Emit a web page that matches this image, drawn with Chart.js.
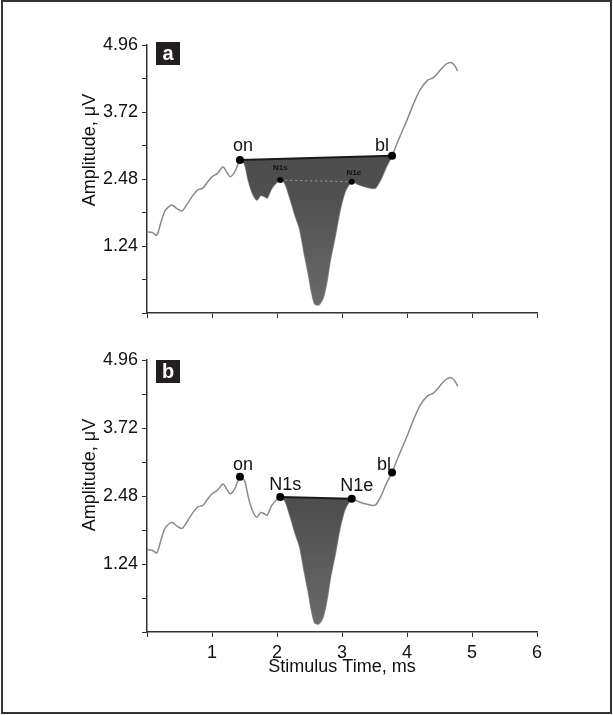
<!DOCTYPE html>
<html>
<head>
<meta charset="utf-8">
<script src="https://cdn.jsdelivr.net/npm/chart.js@4.4.0/dist/chart.umd.min.js"></script>
<style>
body{margin:0;background:#fff;width:613px;height:715px;position:relative;overflow:hidden}
#frame{position:absolute;left:1px;top:0;width:611px;height:714px;box-sizing:border-box;border:2px solid #333;pointer-events:none}
#ca{position:absolute;left:0;top:0}
#cb{position:absolute;left:0;top:338px}
</style>
</head>
<body>
<canvas id="ca" width="613" height="338"></canvas>
<canvas id="cb" width="613" height="377"></canvas>
<div id="frame"></div>
<script>
// waveform (ms, µV)
const timeMs = [0.00, 0.08, 0.15, 0.22, 0.28, 0.38, 0.46, 0.54, 0.62, 0.69, 0.78, 0.86, 0.93, 1.00, 1.08, 1.17, 1.23, 1.28, 1.35, 1.43,
  1.50, 1.56, 1.62, 1.69, 1.75, 1.80, 1.85, 1.92, 2.05, 2.12, 2.20, 2.28, 2.35, 2.42, 2.48, 2.53, 2.58, 2.64, 2.71, 2.77,
  2.82, 2.90, 2.97, 3.05, 3.15, 3.25, 3.35, 3.45, 3.52, 3.60, 3.68, 3.77, 3.85, 4.00, 4.10, 4.20, 4.32, 4.40, 4.46, 4.55,
  4.62, 4.69, 4.74, 4.78];
const amplitudeUv = [1.50, 1.49, 1.44, 1.70, 1.90, 2.00, 1.93, 1.89, 2.02, 2.15, 2.28, 2.31, 2.42, 2.52, 2.58, 2.70, 2.60, 2.52, 2.61, 2.83,
  2.76, 2.45, 2.22, 2.09, 2.18, 2.16, 2.13, 2.31, 2.46, 2.40, 2.12, 1.80, 1.55, 1.10, 0.74, 0.40, 0.17, 0.15, 0.28, 0.60,
  0.98, 1.45, 1.90, 2.25, 2.43, 2.38, 2.34, 2.31, 2.32, 2.48, 2.70, 2.91, 3.15, 3.57, 3.87, 4.13, 4.31, 4.35, 4.42, 4.55,
  4.62, 4.63, 4.57, 4.48];

const markerNames = ["on", "N1s", "N1e", "bl"];
const markerTime = [1.43, 2.05, 3.15, 3.77];
const markerAmp = [2.83, 2.46, 2.43, 2.91];

const yTickValues = [0, 0.62, 1.24, 1.86, 2.48, 3.10, 3.72, 4.34, 4.96];
const yTickLabels = ["", "", "1.24", "", "2.48", "", "3.72", "", "4.96"];
const xTickValues = [0, 1, 2, 3, 4, 5, 6];
const xTickLabels = ["", "1", "2", "3", "4", "5", "6"];

const FONT = '"Liberation Sans", Arial, sans-serif';

function pts(from, to) {
  let out = [];
  for (let i = 0; i < timeMs.length; i++) {
    if (timeMs[i] >= from - 1e-9 && timeMs[i] <= to + 1e-9) out.push({x: timeMs[i], y: amplitudeUv[i]});
  }
  return out;
}

// shaded area gets a bit lighter towards the tip of the trough
function shade(c) {
  const area = c.chart.chartArea;
  if (!area) return "#505050";
  const g = c.chart.ctx.createLinearGradient(0, area.top, 0, area.bottom);
  g.addColorStop(0, "#474747");
  g.addColorStop(0.55, "#4f4f4f");
  g.addColorStop(1, "#6c6c6c");
  return g;
}

// texts drawn on top: axis title, panel letter, marker names
const panelText = {
  id: "panelText",
  afterDraw(chart, args, o) {
    const ctx = chart.ctx, xs = chart.scales.x, ys = chart.scales.y, area = chart.chartArea;
    ctx.save();
    ctx.fillStyle = "#111";
    ctx.textAlign = "center";
    ctx.textBaseline = "middle";
    ctx.translate(90, area.top + o.titleDy);
    ctx.rotate(-Math.PI / 2);
    ctx.font = "18px " + FONT;
    ctx.fillText("Amplitude, \u03bcV", 0, 0);
    ctx.restore();

    ctx.save();
    ctx.fillStyle = "#231f20";
    ctx.fillRect(area.left + 9, area.top + o.boxDy, 24, 23);
    ctx.fillStyle = "#fff";
    ctx.font = "bold 20px " + FONT;
    ctx.textAlign = "center";
    ctx.textBaseline = "middle";
    ctx.fillText(o.letter, area.left + 21, area.top + o.boxDy + 12);

    ctx.fillStyle = "#111";
    o.labels.forEach(l => {
      const i = markerNames.indexOf(l.name);
      ctx.font = l.font;
      ctx.fillText(l.name, xs.getPixelForValue(markerTime[i]) + l.dx, ys.getPixelForValue(markerAmp[i]) + l.dy);
    });
    ctx.restore();
  }
};

function makeChart(id, p) {
  const iFrom = markerNames.indexOf(p.fillFrom), iTo = markerNames.indexOf(p.fillTo);
  let datasets = [
    {
      data: markerTime.map((t, i) => ({x: t, y: markerAmp[i]})),
      showLine: false,
      pointRadius: p.pointSizes,
      pointBackgroundColor: "#000",
      pointBorderWidth: 0
    },
    {
      data: [{x: markerTime[iFrom], y: markerAmp[iFrom]}, {x: markerTime[iTo], y: markerAmp[iTo]}],
      borderColor: "#1a1a1a",
      borderWidth: 2,
      pointRadius: 0
    }
  ];
  if (p.dotted) {
    datasets.push({
      data: [{x: markerTime[1], y: markerAmp[1]}, {x: markerTime[2], y: markerAmp[2]}],
      borderColor: "rgba(255,255,255,0.45)",
      borderWidth: 1,
      borderDash: [2, 3],
      pointRadius: 0
    });
  }
  datasets.push({
    data: pts(markerTime[iFrom], markerTime[iTo]),
    borderWidth: 0,
    pointRadius: 0,
    tension: 0.25,
    fill: 1,
    backgroundColor: shade
  });
  datasets.push({
    data: pts(0, 10),
    borderColor: "#8a8a8a",
    borderWidth: 1.5,
    pointRadius: 0,
    tension: 0.25,
    fill: false
  });

  return new Chart(document.getElementById(id).getContext("2d"), {
    type: "line",
    data: {datasets: datasets},
    plugins: [panelText],
    options: {
      responsive: false,
      animation: false,
      layout: {padding: {left: 0, right: 76, top: p.top, bottom: 0}},
      plugins: {
        legend: {display: false},
        tooltip: {enabled: false},
        panelText: {letter: p.letter, titleDy: p.titleDy, boxDy: p.boxDy, labels: p.labels}
      },
      scales: {
        x: {
          type: "linear",
          min: 0,
          max: 6,
          afterBuildTicks: s => { s.ticks = xTickValues.map(v => ({value: v})); },
          afterFit: s => { s.height = p.xHeight; },
          ticks: {
            display: p.xLabels,
            padding: 5,
            maxRotation: 0,
            autoSkip: false,
            color: "#111",
            font: {family: FONT, size: 18},
            callback: (v, i) => xTickLabels[i]
          },
          grid: {drawOnChartArea: false, drawTicks: true, tickLength: 5, color: "#333"},
          border: {color: "#333", width: 1.5},
          title: {
            display: p.xLabels,
            text: "Stimulus Time, ms",
            color: "#111",
            font: {family: FONT, size: 18},
            padding: {top: 0, bottom: 37}
          }
        },
        y: {
          min: 0,
          max: 4.96,
          afterBuildTicks: s => { s.ticks = yTickValues.map(v => ({value: v})); },
          afterFit: s => { s.width = 147; },
          ticks: {
            padding: 4,
            color: "#111",
            font: {family: FONT, size: 18},
            callback: (v, i) => yTickLabels[i]
          },
          grid: {drawOnChartArea: false, drawTicks: true, tickLength: 5, color: "#333"},
          border: {color: "#333", width: 1.5}
        }
      }
    }
  });
}

makeChart("ca", {
  letter: "a", top: 45, xHeight: 25, xLabels: false, titleDy: 105, boxDy: -3,
  fillFrom: "on", fillTo: "bl", dotted: true,
  pointSizes: [4, 3, 3, 4],
  labels: [
    {name: "on", dx: 3, dy: -14, font: "18px " + FONT},
    {name: "bl", dx: -10, dy: -10, font: "18px " + FONT},
    {name: "N1s", dx: 0, dy: -12, font: "bold 8px " + FONT},
    {name: "N1e", dx: 2, dy: -9, font: "bold 8px " + FONT}
  ]
});

makeChart("cb", {
  letter: "b", top: 22, xHeight: 83, xLabels: true, titleDy: 115, boxDy: 0,
  fillFrom: "N1s", fillTo: "N1e", dotted: false,
  pointSizes: [4, 4, 4, 4],
  labels: [
    {name: "on", dx: 3, dy: -12, font: "18px " + FONT},
    {name: "N1s", dx: 5, dy: -12, font: "18px " + FONT},
    {name: "N1e", dx: 5, dy: -13, font: "18px " + FONT},
    {name: "bl", dx: -8, dy: -7, font: "18px " + FONT}
  ]
});
</script>
</body>
</html>
